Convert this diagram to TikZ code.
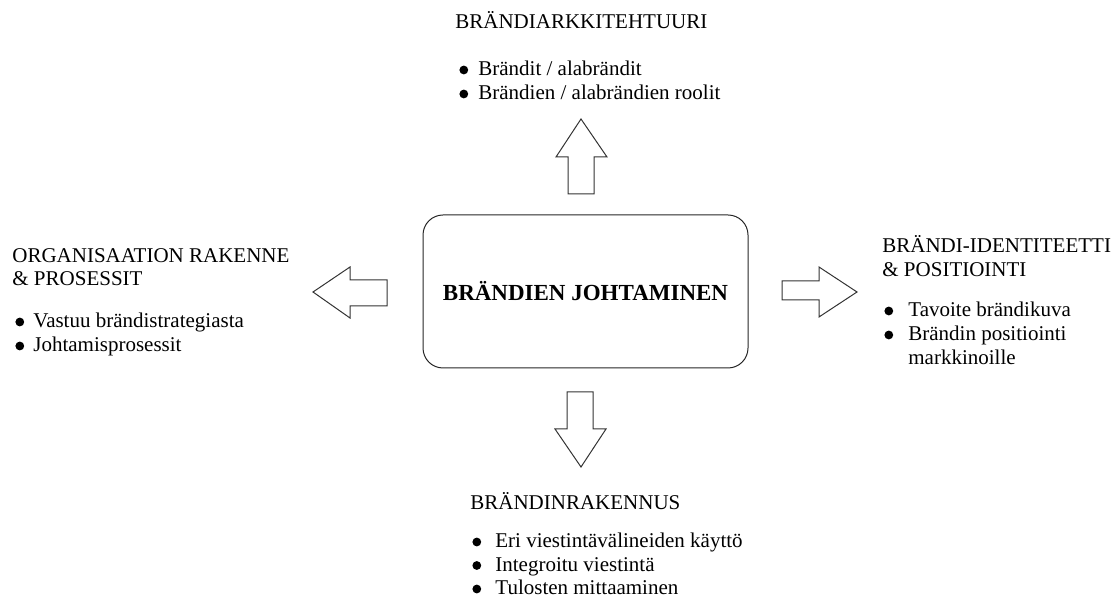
\documentclass[tikz,border=0pt]{standalone}
\usepackage{fontspec}
\setmainfont{Liberation Serif}
\usepackage{array}

% bullet and bullet list
\newcommand{\blt}{\tikz[baseline=-3pt]\fill (2.2pt,0) circle (2.2pt);}
\newcommand{\items}[2][5pt]{\begin{tabular}[t]{@{}l@{\hspace{#1}}l@{}}#2\end{tabular}}
\newcommand{\heads}[1]{\begin{tabular}[t]{@{}l@{}}#1\end{tabular}}

\tikzset{
  txt/.style={anchor=base west, inner sep=0pt, font=\fontsize{10.5}{12}\selectfont},
  mainbox/.style={draw=black!85, line width=0.5pt, rounded corners=10pt,
    minimum width=162.5pt, minimum height=76.5pt,
    font=\bfseries\fontsize{11.5}{14}\selectfont},
  blockarrow/.style={draw=black!80, line width=0.5pt, fill=white}
}

\begin{document}
\begin{tikzpicture}[x=0.5pt, y=-0.5pt]
    \useasboundingbox (0,0) rectangle (1114,597);

    % Keskus
    \node[mainbox] (johto) at (585.5,291.5) {BRÄNDIEN JOHTAMINEN};

    % Nuolet
    % ylös
    \draw[blockarrow] (568,194) -- (568,157) -- (556,157) -- (581,119)
        -- (607,157) -- (594,157) -- (594,194) -- cycle;
    % alas
    \draw[blockarrow] (567,392) -- (593,392) -- (593,429) -- (606,429)
        -- (581,467) -- (555,429) -- (567,429) -- cycle;
    % vasemmalle
    \draw[blockarrow] (387,280) -- (350,280) -- (350,267) -- (313,292)
        -- (350,318) -- (350,306) -- (387,306) -- cycle;
    % oikealle
    \draw[blockarrow] (782,281) -- (819,281) -- (819,267) -- (857,292)
        -- (819,317) -- (819,300) -- (782,300) -- cycle;

    % Ylhäällä
    \node[txt] (arkki) at (455,29) {BRÄNDIARKKITEHTUURI};
    \node[txt] (arkkilista) at (459,76) {\items[5.1pt]{%
        \blt & Brändit / alabrändit\\
        \blt & Brändien / alabrändien roolit}};

    % Vasemmalla
    \node[txt, font=\fontsize{10.5}{11.5}\selectfont] (org) at (12,263)
        {\heads{ORGANISAATION RAKENNE\\ \& PROSESSIT}};
    \node[txt] (orglista) at (15,328) {\items[4.6pt]{%
        \blt & Vastuu brändistrategiasta\\
        \blt & Johtamisprosessit}};

    % Oikealla
    \node[txt] (ident) at (882,253)
        {\heads{BRÄNDI-IDENTITEETTI\\ \& POSITIOINTI}};
    \node[txt] (identlista) at (884,317) {\items[7.6pt]{%
        \blt & Tavoite brändikuva\\
        \blt & Brändin positiointi\\
             & markkinoille}};

    % Alhaalla
    \node[txt] (rak) at (470,510) {BRÄNDINRAKENNUS};
    \node[txt, font=\fontsize{10.5}{11.75}\selectfont] (raklista) at (472,548) {\items[7.1pt]{%
        \blt & Eri viestintävälineiden käyttö\\
        \blt & Integroitu viestintä\\
        \blt & Tulosten mittaaminen}};
\end{tikzpicture}
\end{document}
